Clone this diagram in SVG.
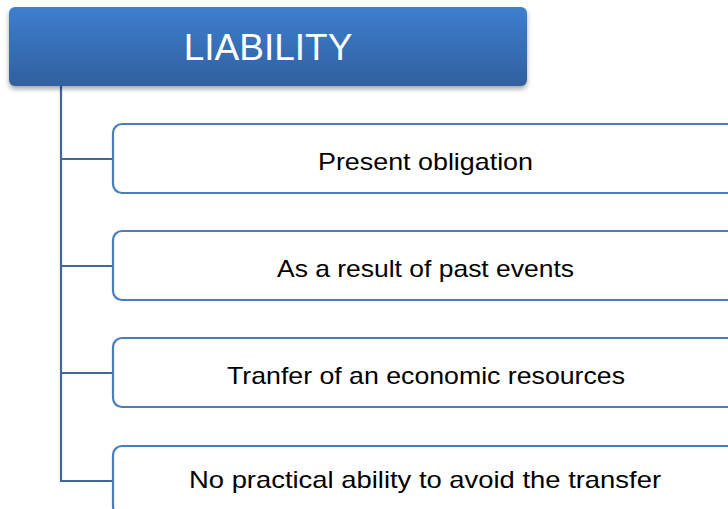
<svg xmlns="http://www.w3.org/2000/svg" width="728" height="509" viewBox="0 0 728 509">
<defs>
<linearGradient id="hg" x1="0" y1="0" x2="0" y2="1">
<stop offset="0" stop-color="#3d7fcf"/>
<stop offset="1" stop-color="#30609f"/>
</linearGradient>
<filter id="sh" x="-10%" y="-20%" width="120%" height="150%">
<feDropShadow dx="0" dy="3" stdDeviation="2.5" flood-color="#000" flood-opacity="0.35"/>
</filter>
<style>
.box{fill:#fff;stroke:#4a7ebb;stroke-width:2.2}
.ln{fill:none;stroke:#41679a;stroke-width:2.2}
.t{font-family:"Liberation Sans",Arial,sans-serif;font-size:24px;fill:#000;text-anchor:middle}
.h{font-family:"Liberation Sans",Arial,sans-serif;font-size:37px;fill:#fff;text-anchor:middle}
</style>
</defs>
<g id="connectors">
<path class="ln" d="M61,86 V481 H113 M61,159 H113 M61,266 H113 M61,373 H113"/>
</g>
<g id="header">
<rect x="9" y="7" width="518" height="79" rx="6" fill="url(#hg)" filter="url(#sh)"/>
<text class="h" x="268" y="60">LIABILITY</text>
</g>
<g id="n1">
<rect class="box" x="113" y="124" width="640" height="69" rx="9"/>
<text class="t" x="425.5" y="170" textLength="215" lengthAdjust="spacingAndGlyphs">Present obligation</text>
</g>
<g id="n2">
<rect class="box" x="113" y="231" width="640" height="69" rx="9"/>
<text class="t" x="425.5" y="277" textLength="297" lengthAdjust="spacingAndGlyphs">As a result of past events</text>
</g>
<g id="n3">
<rect class="box" x="113" y="338" width="640" height="69" rx="9"/>
<text class="t" x="426" y="384" textLength="398" lengthAdjust="spacingAndGlyphs">Tranfer of an economic resources</text>
</g>
<g id="n4">
<rect class="box" x="113" y="446" width="640" height="69" rx="9"/>
<text class="t" x="425" y="488" textLength="472" lengthAdjust="spacingAndGlyphs">No practical ability to avoid the transfer</text>
</g>
</svg>
